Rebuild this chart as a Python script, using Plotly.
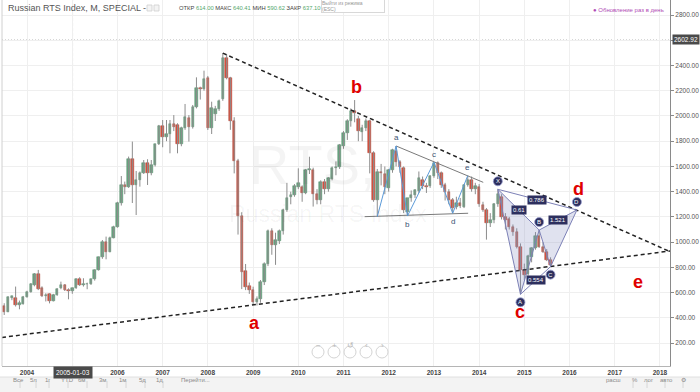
import plotly.graph_objects as go
import pandas as pd

# ---------------- data (monthly OHLC, Russian RTS Index) ----------------
start_month = "2003-07-01"
opens = [
    494, 450, 555, 561, 505, 510,
    567, 606, 660, 748, 640, 570, 590, 537, 580, 635, 660, 624,
    614, 635, 711, 658, 666, 667, 706, 780, 880, 1004, 925, 1036,
    1123, 1308, 1453, 1440, 1659, 1453, 1493, 1551, 1625, 1546, 1612, 1775,
    1921, 1836, 1855, 1934, 1928, 1775, 1902, 1980, 1915, 2074, 2219, 2211,
    2298, 1902, 2016, 2052, 2132, 2457, 2304, 1963, 1646, 1208, 772, 653,
    621, 529, 547, 685, 825, 1085, 975, 1012, 1091, 1255, 1355, 1374,
    1440, 1435, 1392, 1572, 1572, 1382, 1334, 1480, 1419, 1500, 1585, 1598,
    1765, 1868, 1963, 2042, 1975, 1876, 1902, 1962, 1704, 1334, 1559, 1540,
    1427, 1572, 1725, 1638, 1590, 1241, 1347, 1374, 1405, 1495, 1445, 1445,
    1527, 1625, 1545, 1452, 1400, 1334, 1275, 1312, 1280, 1450, 1495, 1420,
    1440, 1295, 1255, 1150, 1175, 1300, 1360, 1202, 1180, 1122, 1083, 964,
    780, 745, 880, 950, 1045, 965, 925, 860,
]
highs = [
    516, 570, 575, 648, 537, 574,
    615, 675, 755, 780, 650, 595, 595, 590, 635, 687, 667, 634,
    640.41, 714, 722, 714, 679, 711, 785, 885, 1017, 1044, 1044, 1130,
    1320, 1524, 1480, 1678, 1797, 1564, 1560, 1651, 1657, 1651, 1780, 1929,
    1968, 1968, 1968, 2007, 1942, 1915, 2095, 2007, 2087, 2306, 2232, 2359,
    2317, 2113, 2080, 2130, 2498, 2490, 2310, 1990, 1660, 1237, 827, 680,
    647, 570, 700, 840, 1100, 1110, 1075, 1100, 1265, 1470, 1400, 1460,
    1585, 1450, 1580, 1677, 1590, 1420, 1490, 1500, 1515, 1600, 1640, 1778,
    1880, 1974, 2060, 2126, 2000, 1930, 1980, 1970, 1720, 1580, 1620, 1600,
    1580, 1740, 1762, 1650, 1600, 1350, 1410, 1420, 1560, 1520, 1470, 1530,
    1633, 1640, 1560, 1470, 1420, 1350, 1360, 1350, 1460, 1527, 1520, 1470,
    1460, 1320, 1270, 1230, 1310, 1419, 1380, 1230, 1200, 1140, 1110, 990,
    830, 900, 960, 1080, 1096, 1000, 945, 880,
]
lows = [
    423, 445, 540, 490, 468, 505,
    560, 600, 650, 620, 565, 530, 515, 530, 575, 627, 613, 547,
    590.62, 630, 653, 648, 627, 661, 695, 775, 868, 864, 920, 1030,
    1115, 1290, 1380, 1430, 1310, 1215, 1440, 1540, 1453, 1530, 1600, 1770,
    1752, 1800, 1704, 1880, 1704, 1760, 1890, 1797, 1900, 2060, 2130, 2200,
    1889, 1857, 1960, 2040, 2120, 2290, 1890, 1545, 1060, 628, 620, 590,
    505, 498, 520, 660, 810, 900, 820, 985, 1060, 1240, 1300, 1360,
    1420, 1320, 1380, 1540, 1282, 1300, 1300, 1380, 1400, 1490, 1530, 1580,
    1740, 1810, 1915, 1950, 1800, 1800, 1880, 1545, 1320, 1202, 1450, 1380,
    1400, 1550, 1600, 1550, 1230, 1207, 1320, 1350, 1390, 1420, 1390, 1430,
    1510, 1500, 1430, 1330, 1300, 1229, 1260, 1270, 1270, 1440, 1400, 1380,
    1280, 1240, 1020, 1120, 1150, 1280, 1180, 1100, 1100, 1050, 950, 587,
    700, 735, 840, 940, 955, 915, 850, 806,
]
closes = [
    450, 563, 570, 500, 520, 563,
    606, 666, 745, 627, 574, 585, 537, 582, 632, 660, 620, 614,
    637.1, 711, 658, 669, 667, 706, 780, 880, 1004, 925, 1036, 1123,
    1308, 1453, 1435, 1659, 1453, 1493, 1551, 1625, 1546, 1612, 1775, 1921,
    1836, 1855, 1934, 1910, 1775, 1902, 1994, 1915, 2074, 2219, 2211, 2290,
    1902, 2060, 2052, 2119, 2457, 2304, 1963, 1646, 1208, 767, 648, 621,
    526, 547, 685, 825, 1085, 980, 1017, 1091, 1255, 1347, 1374, 1445,
    1466, 1387, 1572, 1580, 1382, 1334, 1480, 1419, 1506, 1585, 1598, 1770,
    1868, 1963, 2042, 2026, 1883, 1907, 1962, 1704, 1334, 1559, 1546, 1435,
    1572, 1730, 1638, 1593, 1255, 1347, 1374, 1410, 1506, 1445, 1435, 1527,
    1625, 1545, 1452, 1400, 1334, 1268, 1312, 1290, 1450, 1495, 1420, 1443,
    1300, 1255, 1150, 1175, 1300, 1380, 1202, 1175, 1122, 1083, 964, 780,
    740, 890, 950, 1045, 965, 925, 860, 820,
]

year_ticks = list(range(2004, 2019))
price_ticks = list(range(200, 2801, 200))

# trend lines (analyst drawings)
upper_trend_dates = ["2008-05-01", "2018-03-23"]
upper_trend_vals = [2498, 925]
lower_trend_dates = ["2003-06-13", "2018-03-23"]
lower_trend_vals = [245, 930]

# triangle a-b-c-d-e
tri_upper_dates = ["2012-03-01", "2014-02-03"]
tri_upper_vals = [1762, 1474]
tri_lower_dates = ["2011-06-21", "2013-10-04"]
tri_lower_vals = [1202, 1229]
zig_dates = ["2011-10-01", "2012-03-01", "2012-06-01", "2013-01-01", "2013-06-01", "2013-10-01"]
zig_vals = [1202, 1762, 1207, 1633, 1229, 1527]
zig_labels = ["", "a", "b", "c", "d", "e"]

# XABCD harmonic pattern
pat_dates = ["2014-06-01", "2014-12-01", "2015-05-01", "2015-08-01", "2016-03-01"]
pat_vals = [1419, 587, 1096, 806, 1255]
pat_labels = ["X", "A", "B", "C", "D"]
ratio_pairs = [(0, 4, "0.786"), (0, 2, "0.61"), (2, 4, "1.521"), (1, 3, "0.554")]

# wave labels (red)
wave_labels = ["a", "b", "c", "d", "e"]
wave_dates = ["2009-01-09", "2011-04-17", "2014-11-27", "2016-03-10", "2017-07-08"]
wave_vals = [359, 2232, 447, 1421, 684]

crosshair_date = "2005-01-03"
last_price = 2602.92

# ---------------- layout helpers ----------------
FONT = "Arial, Liberation Sans, sans-serif"
W, H = 700, 392
ML, MR, MT, MB = 2, 30, 0, 26
PW = W - ML - MR
PH = H - MT - MB


def px(x):
    return (x - ML) / PW


def py(y):
    return (H - MB - y) / PH


months = pd.date_range(start_month, periods=len(opens), freq="MS")

UP_FILL, UP_LINE = "#6ba583", "#4f8b66"
DN_FILL, DN_LINE = "#d75442", "#a83a2c"
WICK = "#8c8c8c"

fig = go.Figure()

# wicks
wx, wy = [], []
for d, lo, hi in zip(months, lows, highs):
    wx += [d, d, None]
    wy += [lo, hi, None]
fig.add_trace(go.Scatter(x=wx, y=wy, mode="lines", line=dict(color=WICK, width=1),
                         hoverinfo="skip", showlegend=False))

# bodies
bases = [min(o, c) for o, c in zip(opens, closes)]
heights = [max(abs(c - o), 6) for o, c in zip(opens, closes)]
fills = [UP_FILL if c >= o else DN_FILL for o, c in zip(opens, closes)]
borders = [UP_LINE if c >= o else DN_LINE for o, c in zip(opens, closes)]
fig.add_trace(go.Bar(x=months, y=heights, base=bases, width=20 * 86400000,
                     marker=dict(color=fills, line=dict(color=borders, width=0.5)),
                     hoverinfo="skip", showlegend=False))

# trend lines
for dts, vals in [(upper_trend_dates, upper_trend_vals), (lower_trend_dates, lower_trend_vals)]:
    fig.add_trace(go.Scatter(x=dts, y=vals, mode="lines",
                             line=dict(color="#222222", width=1.5, dash="4px,3px"),
                             hoverinfo="skip", showlegend=False))

# triangle
for dts, vals in [(tri_upper_dates, tri_upper_vals), (tri_lower_dates, tri_lower_vals)]:
    fig.add_trace(go.Scatter(x=dts, y=vals, mode="lines", line=dict(color="#7a7a7a", width=1),
                             hoverinfo="skip", showlegend=False))
fig.add_trace(go.Scatter(x=zig_dates, y=zig_vals, mode="lines", line=dict(color="#5b9ad8", width=1),
                         hoverinfo="skip", showlegend=False))

# XABCD pattern
PAT_LINE = "#7c80b6"
PAT_FILL = "rgba(130,140,190,0.25)"
for idx in [(0, 1, 2, 0), (2, 3, 4, 2)]:
    fig.add_trace(go.Scatter(x=[pat_dates[i] for i in idx], y=[pat_vals[i] for i in idx],
                             mode="lines", fill="toself", fillcolor=PAT_FILL,
                             line=dict(color=PAT_LINE, width=1), hoverinfo="skip", showlegend=False))
for i, j in [(0, 4), (1, 3)]:
    fig.add_trace(go.Scatter(x=[pat_dates[i], pat_dates[j]], y=[pat_vals[i], pat_vals[j]],
                             mode="lines", line=dict(color=PAT_LINE, width=1),
                             hoverinfo="skip", showlegend=False))

shapes = []
ann = []

# crosshair + last price line
shapes.append(dict(type="line", xref="x", yref="paper", x0=crosshair_date, x1=crosshair_date,
                   y0=0, y1=1, line=dict(color="#b5b5b5", width=1, dash="3px,2px"), layer="below"))
shapes.append(dict(type="line", xref="paper", yref="y", x0=0, x1=1, y0=last_price, y1=last_price,
                   line=dict(color="#c0c0c0", width=1, dash="1px,2px"), layer="below"))
# left border
shapes.append(dict(type="line", xref="paper", yref="paper", x0=0, x1=0, y0=0, y1=1,
                   line=dict(color="#d0d0d0", width=1)))

# watermark
ann.append(dict(xref="paper", yref="paper", x=px(312), y=py(165), text="RTS,", showarrow=False,
                font=dict(family=FONT, size=56, color="rgba(0,0,0,0.045)"), xanchor="center", yanchor="middle"))
ann.append(dict(xref="paper", yref="paper", x=px(328), y=py(214), text="Russian RTS Index", showarrow=False,
                font=dict(family=FONT, size=23, color="rgba(0,0,0,0.045)"), xanchor="center", yanchor="middle"))

# triangle letters
for d, v, lab in zip(zig_dates, zig_vals, zig_labels):
    if not lab:
        continue
    above = lab in ("a", "c", "e")
    ann.append(dict(x=d, y=v, text=lab, showarrow=False, yshift=8 if above else -8,
                    font=dict(family=FONT, size=8, color="#3b5272")))

# pattern letters in circles
for d, v, lab in zip(pat_dates, pat_vals, pat_labels):
    above = lab in ("X", "B", "D")
    cy = 8 if above else -8
    shapes.append(dict(type="circle", xref="x", yref="y", xsizemode="pixel", ysizemode="pixel",
                       xanchor=d, yanchor=v, x0=-4.5, x1=4.5, y0=cy - 4.5, y1=cy + 4.5,
                       fillcolor="#2d2f5e", line=dict(color="#9aa0d0", width=0.8), layer="above"))
    ann.append(dict(x=d, y=v, text=lab, showarrow=False, yshift=cy,
                    font=dict(family=FONT, size=6, color="white")))

# ratios
for i, j, txt in ratio_pairs:
    t1, t2 = pd.Timestamp(pat_dates[i]), pd.Timestamp(pat_dates[j])
    ann.append(dict(x=t1 + (t2 - t1) / 2, y=(pat_vals[i] + pat_vals[j]) / 2, text=txt, showarrow=False,
                    font=dict(family=FONT, size=6, color="white"), bgcolor="#2d2f5e", borderpad=1))

# red wave labels
for d, v, lab in zip(wave_dates, wave_vals, wave_labels):
    ann.append(dict(x=d, y=v, text=lab, showarrow=False,
                    font=dict(family=FONT, size=18, color="#e00000", weight="bold")))

# header
ann.append(dict(xref="paper", yref="paper", x=px(6), y=py(8), text="Russian RTS Index, M, SPECIAL -",
                showarrow=False, xanchor="left", yanchor="middle",
                font=dict(family=FONT, size=9, color="#555555")))
for x0 in (147, 154):
    shapes.append(dict(type="rect", xref="paper", yref="paper", x0=px(x0), x1=px(x0 + 5),
                       y0=py(11), y1=py(5), line=dict(color="#cfcfcf", width=0.8), fillcolor="#f4f4f4"))
G = "#55a86c"
ohlc_txt = (f'ОТКР <span style="color:{G}">614.00</span> МАКС <span style="color:{G}">640.41</span> '
            f'МИН <span style="color:{G}">590.62</span> ЗАКР <span style="color:{G}">637.10</span>')
ann.append(dict(xref="paper", yref="paper", x=px(177), y=py(8), text=ohlc_txt, showarrow=False,
                xanchor="left", yanchor="middle", font=dict(family=FONT, size=5.8, color="#444444")))
ann.append(dict(xref="paper", yref="paper", x=px(321), y=py(-1), text="Выйти из режима<br>(ESC)",
                showarrow=False, xanchor="left", yanchor="top", align="left", width=62, height=12,
                bgcolor="white", bordercolor="#d8d8d8", borderwidth=1, borderpad=0,
                font=dict(family=FONT, size=5, color="#999999")))
ann.append(dict(xref="paper", yref="paper", x=px(666), y=py(10), text="● Обновление раз в день",
                showarrow=False, xanchor="right", yanchor="middle",
                font=dict(family=FONT, size=6, color="#b04bb5")))

# price label & crosshair date label
ann.append(dict(xref="paper", yref="y", x=px(672), y=last_price, text="2602.92", showarrow=False,
                xanchor="left", yanchor="middle", bgcolor="#4a4a4a", borderpad=1,
                font=dict(family=FONT, size=6.5, color="white")))
ann.append(dict(xref="x", yref="paper", x=crosshair_date, y=py(372), text=crosshair_date, showarrow=False,
                xanchor="center", yanchor="middle", bgcolor="#4a4a4a", borderpad=2,
                font=dict(family=FONT, size=6.5, color="white")))

# nav buttons
for cx, sym in zip([318, 334, 350, 366, 382], ["−", "+", "↺", "‹", "›"]):
    shapes.append(dict(type="circle", xref="paper", yref="paper", x0=px(cx - 6), x1=px(cx + 6),
                       y0=py(358), y1=py(346), line=dict(color="#d4d4d4", width=1), fillcolor="white"))
    ann.append(dict(xref="paper", yref="paper", x=px(cx), y=py(352), text=sym, showarrow=False,
                    font=dict(family=FONT, size=8, color="#b8b8b8")))

# bottom toolbar
shapes.append(dict(type="rect", xref="paper", yref="paper", x0=px(0), x1=px(700), y0=py(392), y1=py(377),
                   fillcolor="#f3f3f3", line=dict(width=0), layer="below"))
shapes.append(dict(type="line", xref="paper", yref="paper", x0=px(0), x1=px(700), y0=py(377), y1=py(377),
                   line=dict(color="#e0e0e0", width=1)))
left_btns = [("Все", 11), ("5л", 28), ("1г", 43), ("YTD", 58.5), ("6м", 76), ("3м", 96.5),
             ("1м", 116.5), ("5д", 136.5), ("1д", 153.5), ("Перейти...", 179)]
for t, cx in left_btns:
    ann.append(dict(xref="paper", yref="paper", x=px(cx), y=py(385), text=t, showarrow=False,
                    font=dict(family=FONT, size=6, color="#8a8a8a")))
for sx in [20, 36, 49, 68, 87, 107, 126, 145, 163]:
    shapes.append(dict(type="line", xref="paper", yref="paper", x0=px(sx), x1=px(sx), y0=py(388), y1=py(381),
                       line=dict(color="#d6d6d6", width=1)))
right_btns = [("расш", 622.5), ("%", 640), ("лог", 655.5), ("авто", 675.5), ("⚙", 688)]
for t, cx in right_btns:
    ann.append(dict(xref="paper", yref="paper", x=px(cx), y=py(385), text=t, showarrow=False,
                    font=dict(family=FONT, size=6, color="#8a8a8a")))
for sx in [633, 647, 665, 683]:
    shapes.append(dict(type="line", xref="paper", yref="paper", x0=px(sx), x1=px(sx), y0=py(388), y1=py(381),
                       line=dict(color="#d6d6d6", width=1)))

fig.update_layout(
    template="none",
    width=W, height=H, margin=dict(l=ML, r=MR, t=MT, b=MB, pad=0),
    paper_bgcolor="white", plot_bgcolor="white",
    showlegend=False, hovermode=False, bargap=0,
    font=dict(family=FONT),
    shapes=shapes, annotations=ann,
    xaxis=dict(type="date", range=["2003-06-13", "2018-03-23"], automargin=False,
               tickvals=[f"{y}-01-01" for y in year_ticks],
               ticktext=["" if y == 2005 else str(y) for y in year_ticks],
               showgrid=True, gridcolor="#efefef", gridwidth=1, zeroline=False,
               ticks="", tickfont=dict(family=FONT, size=6.5, color="#444444", weight="bold"),
               showline=True, linecolor="#b5b5b5", linewidth=1, fixedrange=True),
    yaxis=dict(side="right", range=[18.6, 2918.9], tickvals=price_ticks, automargin=False,
               ticktext=[f"{v:.2f}" for v in price_ticks],
               showgrid=True, gridcolor="#efefef", gridwidth=1, zeroline=False,
               ticks="outside", ticklen=3, tickcolor="#8a8a8a",
               tickfont=dict(family=FONT, size=6.5, color="#555555"),
               showline=True, linecolor="#8a8a8a", linewidth=1, fixedrange=True),
)

fig.write_html("out.html", config={"displayModeBar": False},
               post_script="document.body.style.margin='0px';")
